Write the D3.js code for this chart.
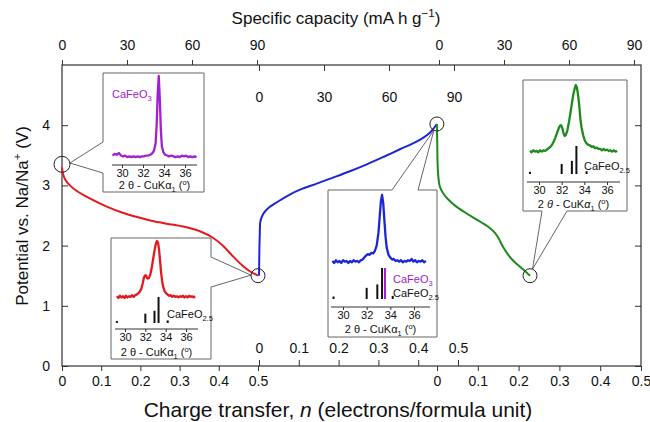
<!DOCTYPE html>
<html>
<head>
<meta charset="utf-8">
<script src="https://cdn.jsdelivr.net/npm/d3@7"></script>
<style>
  body { margin: 0; background: #fff; }
</style>
</head>
<body>
<svg id="chart" width="650" height="422"></svg>
<script>
// ---- voltage profiles (n = electrons per formula unit, V vs Na/Na+) ----
// 1st discharge (red)
const redN = [0, 0.003, 0.008, 0.02, 0.035, 0.066, 0.11, 0.153, 0.194, 0.237, 0.28, 0.32, 0.355, 0.385, 0.41, 0.435, 0.46, 0.48, 0.5];
const redV = [3.30, 3.18, 3.10, 3.00, 2.92, 2.80, 2.66, 2.55, 2.47, 2.40, 2.35, 2.30, 2.23, 2.13, 2.00, 1.83, 1.67, 1.57, 1.50];
// charge (blue)
const blueN = [0, 0.0005, 0.001, 0.002, 0.003, 0.006, 0.012, 0.023, 0.045, 0.075, 0.103, 0.145, 0.186, 0.23, 0.271, 0.315, 0.354, 0.397, 0.43, 0.447];
const blueV = [1.50, 1.70, 1.95, 2.20, 2.38, 2.46, 2.54, 2.62, 2.72, 2.84, 2.93, 3.03, 3.13, 3.24, 3.35, 3.48, 3.60, 3.73, 3.88, 4.02];
// 2nd discharge (green)
const greenN = [0, 0.0005, 0.001, 0.002, 0.004, 0.007, 0.015, 0.027, 0.045, 0.069, 0.09, 0.11, 0.128, 0.142, 0.152, 0.16, 0.172, 0.184, 0.198, 0.21, 0.223, 0.228];
const greenV = [4.02, 3.75, 3.50, 3.27, 3.10, 2.98, 2.87, 2.77, 2.66, 2.55, 2.46, 2.38, 2.30, 2.21, 2.11, 2.00, 1.87, 1.77, 1.68, 1.61, 1.53, 1.50];

// circled points where the XRD patterns were taken [segment, n, V]
const marks = [['left', 0, 3.35], ['left', 0.5, 1.5], ['mid', 0.447, 4.02], ['right', 0.228, 1.5]];

// tick values
const nTicks = [0, 0.1, 0.2, 0.3, 0.4, 0.5];
const capTicks = [0, 30, 60, 90];
const vTicks = [0, 1, 2, 3, 4];
const tthTicks = [30, 32, 34, 36];

// ---- XRD patterns [2theta, intensity %] ----
const xrdPurple = [[29.1,3],[29.3,5],[29.5,4],[29.7,6],[29.9,3],[30.1,2],[30.3,3],[30.5,1],[30.7,2],[30.9,1],[31.1,2],[31.3,1],[31.5,2],[31.7,1],[31.9,2],[32.1,2],[32.3,3],[32.5,3],[32.7,4],[32.9,6],[33.05,9],[33.2,18],[33.3,40],[33.4,78],[33.5,100],[33.6,72],[33.7,34],[33.8,14],[33.95,7],[34.1,4],[34.3,3],[34.5,2],[34.7,3],[34.9,2],[35.1,1],[35.3,2],[35.5,1],[35.7,3],[35.9,2],[36.1,3],[36.3,1],[36.5,2],[36.7,1],[36.9,2],[37.1,1]];
const xrdRed = [[29.2,3],[29.35,0],[29.5,4],[29.65,1],[29.8,3],[29.95,0],[30.1,4],[30.25,1],[30.4,3],[30.55,2],[30.7,5],[30.85,2],[31.0,5],[31.15,6],[31.3,8],[31.45,11],[31.6,16],[31.75,26],[31.85,35],[31.95,39],[32.05,40],[32.15,36],[32.25,34],[32.35,35],[32.5,42],[32.65,55],[32.8,72],[32.95,88],[33.05,96],[33.15,100],[33.25,97],[33.35,85],[33.45,65],[33.55,45],[33.65,30],[33.75,20],[33.9,12],[34.05,8],[34.2,6],[34.35,4],[34.5,5],[34.65,2],[34.8,4],[34.95,2],[35.1,3],[35.25,1],[35.4,3],[35.55,2],[35.7,4],[35.85,1],[36.0,3],[36.15,1],[36.3,4],[36.45,2],[36.6,3],[36.75,1],[36.9,3]];
const xrdBlue = [[29.1,3],[29.25,0],[29.4,4],[29.55,1],[29.7,3],[29.85,0],[30.0,4],[30.15,2],[30.3,3],[30.45,0],[30.6,3],[30.75,1],[30.9,4],[31.05,2],[31.2,3],[31.35,1],[31.5,4],[31.65,5],[31.8,8],[31.95,11],[32.1,13],[32.25,12],[32.4,15],[32.55,14],[32.7,18],[32.85,26],[33.0,45],[33.1,68],[33.2,90],[33.3,100],[33.4,88],[33.5,62],[33.6,38],[33.7,22],[33.85,12],[34.0,8],[34.15,5],[34.3,6],[34.45,3],[34.6,4],[34.75,2],[34.9,4],[35.05,1],[35.2,3],[35.35,2],[35.5,4],[35.65,3],[35.8,6],[35.95,2],[36.1,4],[36.25,1],[36.4,3],[36.55,2],[36.7,4],[36.85,1],[37.0,3]];
const xrdGreen = [[29.2,3],[29.35,1],[29.5,4],[29.65,2],[29.8,3],[29.95,1],[30.1,4],[30.25,2],[30.4,4],[30.55,3],[30.7,5],[30.85,7],[31.0,9],[31.15,12],[31.3,17],[31.45,23],[31.6,30],[31.75,37],[31.85,40],[31.95,41],[32.05,37],[32.15,30],[32.25,25],[32.35,26],[32.5,33],[32.65,46],[32.8,62],[32.95,78],[33.05,88],[33.15,95],[33.25,100],[33.35,96],[33.45,85],[33.55,70],[33.65,50],[33.75,38],[33.9,26],[34.05,18],[34.2,14],[34.35,12],[34.5,11],[34.65,9],[34.8,10],[34.95,7],[35.1,8],[35.25,6],[35.4,6],[35.55,4],[35.7,6],[35.85,4],[36.0,5],[36.15,3],[36.3,4],[36.45,2],[36.6,4],[36.75,2],[36.9,3]];

// reference stick patterns
const stickO25 = [[29.2, 8], [32.0, 36], [32.9, 47], [33.3, 100], [34.2, 10]];
const stickO3 = [[33.55, 100]];

const font = '"Liberation Sans", Arial, Helvetica, sans-serif';
const col = {red: '#e5181e', blue: '#1b27d6', green: '#1f8a1c', purple: '#a021d4'};

const svg = d3.select('#chart').attr('font-family', font);
const frame = {left: 62, right: 641, top: 65, bottom: 366};

// scales: the x axis is three broken segments
const yV = d3.scaleLinear().domain([0, 5]).range([frame.bottom, frame.top]);
const xN = {
  left: d3.scaleLinear().domain([0, 0.5]).range([62, 258]),
  mid: d3.scaleLinear().domain([0, 0.5]).range([259, 458]),
  right: d3.scaleLinear().domain([0, 0.5]).range([437, 641])
};
const xCap = {
  left: d3.scaleLinear().domain([0, 90]).range([62, 257]),
  mid: d3.scaleLinear().domain([0, 90]).range([259, 454]),
  right: d3.scaleLinear().domain([0, 90]).range([439, 634])
};

// rich text helper for sub/superscripts
function rich(textSel, parts, size) {
  let shift = 0;
  parts.forEach(p => {
    const target = p.sub ? size * 0.3 : p.sup ? -size * 0.4 : 0;
    textSel.append('tspan')
      .attr('dy', target - shift)
      .attr('font-size', (p.sub || p.sup) ? size * 0.68 : size)
      .attr('font-style', p.it ? 'italic' : null)
      .text(p.t);
    shift = target;
  });
  return textSel;
}

function axisG(axis, tx, ty, size) {
  const g = svg.append('g')
    .attr('transform', `translate(${tx},${ty})`)
    .call(axis)
    .attr('font-family', font)
    .attr('font-size', size || 14);
  g.select('.domain').remove();
  g.selectAll('line').attr('stroke', '#333');
  g.selectAll('text').attr('fill', '#111');
  return g;
}

// frame
svg.append('rect')
  .attr('x', frame.left).attr('y', frame.top)
  .attr('width', frame.right - frame.left).attr('height', frame.bottom - frame.top)
  .attr('fill', 'none').attr('stroke', '#333').attr('stroke-width', 1.2);

// y axes
axisG(d3.axisLeft(yV).tickValues(vTicks).tickSize(-6).tickPadding(12).tickFormat(d => d), frame.left, 0);
axisG(d3.axisRight(yV).tickValues(vTicks).tickSize(-6).tickFormat(''), frame.right, 0);

// outer bottom n axes and top capacity axes
['left', 'right'].forEach(k => {
  axisG(d3.axisBottom(xN[k]).tickValues(nTicks).tickSize(5).tickPadding(5).tickFormat(d => d), 0, frame.bottom);
  axisG(d3.axisTop(xCap[k]).tickValues(capTicks).tickSize(5).tickPadding(10).tickFormat(d => d), 0, frame.top);
});
// inner axes for the charge segment
axisG(d3.axisTop(xN.mid).tickValues(nTicks).tickSize(6).tickPadding(7).tickFormat(d => d), 0, frame.bottom);
axisG(d3.axisBottom(xCap.mid).tickValues(capTicks).tickSize(6).tickPadding(21).tickFormat(d => d), 0, frame.top);

// axis titles
rich(svg.append('text').attr('x', 336).attr('y', 24).attr('text-anchor', 'middle').attr('fill', '#111'),
  [{t: 'Specific capacity (mA h g'}, {t: '\u22121', sup: true}, {t: ')'}], 17);
rich(svg.append('text').attr('transform', 'translate(28,216) rotate(-90)').attr('text-anchor', 'middle').attr('fill', '#111'),
  [{t: 'Potential vs. Na/Na'}, {t: '+', sup: true}, {t: ' (V)'}], 17);
rich(svg.append('text').attr('x', 338).attr('y', 417).attr('text-anchor', 'middle').attr('fill', '#111'),
  [{t: 'Charge transfer, '}, {t: 'n', it: true}, {t: ' (electrons/formula unit)'}], 21);

// ---- insets ----
const markPos = marks.map(m => [xN[m[0]](m[1]), yV(m[2])]);
const markR = [8, 7, 7, 7];

const insets = [
  {box: [103, 73, 204, 192], side: 'left', gap: [142, 173], mark: 0,
   tth: [122, 185], axisY: 165, axisX: [112, 197], yI: [158, 76], titleY: 189,
   trace: xrdPurple, color: col.purple, italic: false,
   sticks: [], stickBase: 0, stickH: 0,
   labels: [{x: 112, y: 98, parts: [{t: 'CaFeO'}, {t: '3', sub: true}], color: col.purple, size: 11}]},
  {box: [111, 238, 211, 359], side: 'right', gap: [257, 287], mark: 1,
   tth: [125, 186], axisY: 329, axisX: [115, 198], yI: [298, 241], titleY: 356,
   trace: xrdRed, color: col.red, italic: false,
   sticks: [[stickO25, '#111']], stickBase: 323, stickH: 26,
   labels: [{x: 167, y: 318, parts: [{t: 'CaFeO'}, {t: '2.5', sub: true}], color: '#111', size: 11}]},
  {box: [328, 190, 437, 337], side: 'top', gap: [392, 418], mark: 2,
   tth: [343, 414], axisY: 307, axisX: [331, 430], yI: [263, 195], titleY: 333,
   trace: xrdBlue, color: col.blue, italic: false,
   sticks: [[stickO25, '#111'], [stickO3, col.purple]], stickBase: 299, stickH: 31,
   labels: [{x: 393, y: 283, parts: [{t: 'CaFeO'}, {t: '3', sub: true}], color: col.purple, size: 11},
            {x: 393, y: 297, parts: [{t: 'CaFeO'}, {t: '2.5', sub: true}], color: '#111', size: 11}]},
  {box: [523, 80, 627, 211], side: 'bottom', gap: [542, 567], mark: 3,
   tth: [539, 607], axisY: 182, axisX: [527, 620], yI: [153, 85], titleY: 208,
   trace: xrdGreen, color: col.green, italic: true,
   sticks: [[stickO25, '#111']], stickBase: 174, stickH: 28,
   labels: [{x: 584, y: 170, parts: [{t: 'CaFeO'}, {t: '2.5', sub: true}], color: '#111', size: 11}]}
];

function drawInset(c) {
  const [x0, y0, x1, y1] = c.box;
  const [cx, cy] = markPos[c.mark];
  const r = markR[c.mark];
  let g1, g2;
  if (c.side === 'left') { g1 = [x0, c.gap[1]]; g2 = [x0, c.gap[0]]; }
  if (c.side === 'right') { g1 = [x1, c.gap[0]]; g2 = [x1, c.gap[1]]; }
  if (c.side === 'top') { g1 = [c.gap[0], y0]; g2 = [c.gap[1], y0]; }
  if (c.side === 'bottom') { g1 = [c.gap[1], y1]; g2 = [c.gap[0], y1]; }
  const mx = (g1[0] + g2[0]) / 2 - cx, my = (g1[1] + g2[1]) / 2 - cy;
  const len = Math.hypot(mx, my);
  const apex = [cx + r * mx / len, cy + r * my / len];

  let pts;
  if (c.side === 'left') pts = [[x0, y0], [x1, y0], [x1, y1], [x0, y1], g1, apex, g2];
  if (c.side === 'right') pts = [[x0, y0], [x1, y0], g1, apex, g2, [x1, y1], [x0, y1]];
  if (c.side === 'top') pts = [[x0, y0], g1, apex, g2, [x1, y0], [x1, y1], [x0, y1]];
  if (c.side === 'bottom') pts = [[x0, y0], [x1, y0], [x1, y1], g1, apex, g2, [x0, y1]];

  svg.append('path')
    .attr('d', d3.line()(pts) + 'Z')
    .attr('fill', '#fff').attr('stroke', '#666').attr('stroke-width', 1);

  const sx = d3.scaleLinear().domain([30, 36]).range(c.tth);
  const sy = d3.scaleLinear().domain([0, 100]).range(c.yI);
  const g = svg.append('g');

  g.append('path')
    .datum(c.trace)
    .attr('d', d3.line().x(d => sx(d[0])).y(d => sy(d[1])))
    .attr('fill', 'none').attr('stroke', c.color).attr('stroke-width', 2.3)
    .attr('stroke-linejoin', 'round');

  c.sticks.forEach(([data, color]) => {
    g.selectAll(null).data(data).join('line')
      .attr('x1', d => sx(d[0])).attr('x2', d => sx(d[0]))
      .attr('y1', c.stickBase).attr('y2', d => c.stickBase - Math.max(2, c.stickH * d[1] / 100))
      .attr('stroke', color).attr('stroke-width', 2);
  });

  c.labels.forEach(l => {
    rich(g.append('text').attr('x', l.x).attr('y', l.y).attr('fill', l.color), l.parts, l.size);
  });

  g.append('line')
    .attr('x1', c.axisX[0]).attr('x2', c.axisX[1])
    .attr('y1', c.axisY).attr('y2', c.axisY)
    .attr('stroke', '#333').attr('stroke-width', 1);
  const ax = g.append('g')
    .attr('transform', `translate(0,${c.axisY})`)
    .call(d3.axisBottom(sx).tickValues(tthTicks).tickSize(3).tickPadding(1).tickFormat(d => d))
    .attr('font-family', font).attr('font-size', 11);
  ax.select('.domain').remove();
  ax.selectAll('line').attr('stroke', '#333');
  ax.selectAll('text').attr('fill', '#111');

  rich(g.append('text').attr('x', (c.axisX[0] + c.axisX[1]) / 2).attr('y', c.titleY)
      .attr('text-anchor', 'middle').attr('fill', '#111'),
    [{t: '2 '}, {t: '\u03b8', it: c.italic}, {t: ' - CuK'}, {t: '\u03b1', it: c.italic},
     {t: '1', sub: true}, {t: ' ('}, {t: 'o', sup: true}, {t: ')'}], 11);
}
insets.forEach(drawInset);

// ---- voltage curves ----
const curve = d3.line().curve(d3.curveCatmullRom.alpha(0.5));
function drawCurve(ns, vs, seg, color) {
  const pts = ns.map((n, i) => [xN[seg](n), yV(vs[i])]);
  svg.append('path')
    .attr('d', curve(pts))
    .attr('fill', 'none').attr('stroke', color).attr('stroke-width', 2);
}
drawCurve(redN, redV, 'left', col.red);
drawCurve(blueN, blueV, 'mid', col.blue);
drawCurve(greenN, greenV, 'right', col.green);

// circles
svg.selectAll('circle.mark').data(markPos).join('circle')
  .attr('class', 'mark')
  .attr('cx', d => d[0]).attr('cy', d => d[1])
  .attr('r', (d, i) => markR[i])
  .attr('fill', 'none').attr('stroke', '#222').attr('stroke-width', 1);
</script>
</body>
</html>
